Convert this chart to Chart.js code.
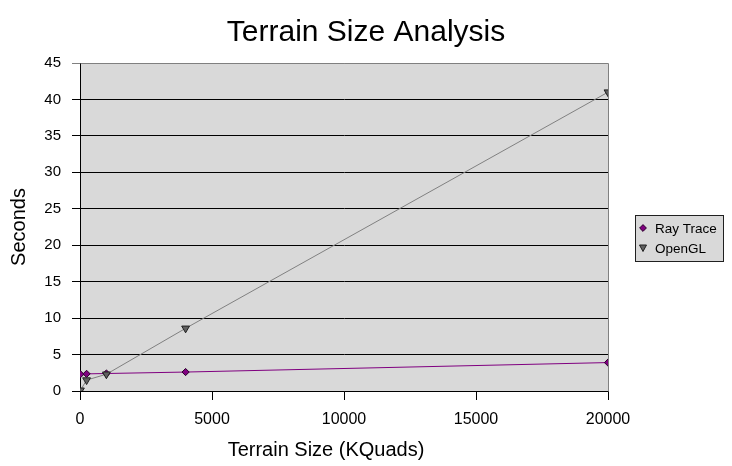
<!DOCTYPE html>
<html>
<head>
<meta charset="utf-8">
<script src="https://cdn.jsdelivr.net/npm/chart.js@4.4.1/dist/chart.umd.min.js"></script>
<style>
  html, body { margin: 0; padding: 0; background: #ffffff; }
  #wrap { width: 732px; height: 466px; position: relative; }
</style>
</head>
<body>
<div id="wrap"><canvas id="c" width="732" height="466"></canvas></div>
<script>
// Terrain sizes (KQuads) and timings (seconds)
const terrainSizes = [16, 250, 1000, 4000, 20000];
const rayTraceSeconds = [2.3, 2.35, 2.4, 2.6, 3.9];
const openGLSeconds = [0.1, 1.5, 2.3, 8.6, 41];
const seriesNames = ['Ray Trace', 'OpenGL'];
const xTicks = [0, 5000, 10000, 15000, 20000];
const yTicks = [0, 5, 10, 15, 20, 25, 30, 35, 40, 45];

const chartTitle = 'Terrain Size Analysis';
const xTitle = 'Terrain Size (KQuads)';
const yTitle = 'Seconds';

const FONT = "'Liberation Sans', Arial, sans-serif";

const toPoints = (xs, ys) => xs.map((x, i) => ({ x: x, y: ys[i] }));

const styles = [
  { line: '#800080', fill: '#800080', border: '#2a002a', shape: 'rectRot', radius: 3.6, rotation: 0 },
  { line: '#808080', fill: '#606060', border: '#202020', shape: 'triangle', radius: 4.5, rotation: 180 }
];

// Plot background, frame, title, axis title and legend
const decorations = {
  id: 'decorations',
  beforeDraw(chart) {
    const a = chart.chartArea, ctx = chart.ctx;
    ctx.save();
    ctx.fillStyle = '#d9d9d9';
    ctx.fillRect(a.left, a.top, a.right - a.left, a.bottom - a.top);
    ctx.restore();
  },
  afterDatasetsDraw(chart) {
    const a = chart.chartArea, ctx = chart.ctx;
    ctx.save();
    // gray frame on top and right
    ctx.strokeStyle = '#808080';
    ctx.lineWidth = 1;
    ctx.beginPath();
    ctx.moveTo(Math.round(a.left) + 0.5, Math.round(a.top) + 0.5);
    ctx.lineTo(Math.round(a.right) + 0.5, Math.round(a.top) + 0.5);
    ctx.lineTo(Math.round(a.right) + 0.5, Math.round(a.bottom) + 0.5);
    ctx.stroke();
    ctx.restore();
  },
  afterDraw(chart) {
    const ctx = chart.ctx;
    ctx.save();
    ctx.fillStyle = '#000';
    ctx.textAlign = 'center';
    ctx.textBaseline = 'middle';
    ctx.font = '30px ' + FONT;
    ctx.fillText(chartTitle, 366, 33);
    ctx.font = '20px ' + FONT;
    ctx.fillText(xTitle, 326, 450);

    // legend box
    const lx = 635.5, ly = 215.5, lw = 88, lh = 46;
    ctx.fillStyle = '#d9d9d9';
    ctx.fillRect(lx, ly, lw, lh);
    ctx.strokeStyle = '#202020';
    ctx.lineWidth = 1;
    ctx.strokeRect(lx, ly, lw, lh);
    ctx.font = '13.5px ' + FONT;
    ctx.textAlign = 'left';
    seriesNames.forEach((name, i) => {
      const cy = 228 + i * 20;
      const s = styles[i];
      ctx.fillStyle = s.fill;
      ctx.strokeStyle = s.border;
      ctx.beginPath();
      if (i === 0) {
        const r = 3.4;
        ctx.moveTo(643, cy - r); ctx.lineTo(643 + r, cy); ctx.lineTo(643, cy + r); ctx.lineTo(643 - r, cy); ctx.closePath();
      } else {
        ctx.moveTo(639.5, cy - 3); ctx.lineTo(646.5, cy - 3); ctx.lineTo(643, cy + 3.5); ctx.closePath();
      }
      ctx.fill(); ctx.stroke();
      ctx.fillStyle = '#000';
      ctx.fillText(name, 655, cy + 1);
    });
    ctx.restore();
  }
};

const datasets = [rayTraceSeconds, openGLSeconds].map((vals, i) => ({
  label: seriesNames[i],
  data: toPoints(terrainSizes, vals),
  showLine: true,
  borderColor: styles[i].line,
  borderWidth: 1,
  pointStyle: styles[i].shape,
  pointRotation: styles[i].rotation,
  pointRadius: styles[i].radius,
  pointBackgroundColor: styles[i].fill,
  pointBorderColor: styles[i].border,
  pointBorderWidth: 1,
  tension: 0,
  fill: false
}));

new Chart(document.getElementById('c'), {
  type: 'scatter',
  data: { datasets: datasets.slice().reverse() },
  options: {
    responsive: false,
    animation: false,
    devicePixelRatio: 1,
    layout: { padding: { top: 63, right: 124, bottom: 0, left: 0 } },
    plugins: {
      legend: { display: false },
      title: { display: false },
      tooltip: { enabled: false }
    },
    scales: {
      x: {
        type: 'linear',
        min: 0,
        max: 20000,
        afterBuildTicks(scale) { scale.ticks = xTicks.map(v => ({ value: v })); },
        afterFit(scale) { scale.height = 75; },
        ticks: {
          color: '#000',
          font: { family: FONT, size: 16 },
          padding: 10,
          maxRotation: 0,
          callback: v => String(v)
        },
        grid: { drawOnChartArea: false, drawTicks: true, tickLength: 9, color: '#000', lineWidth: 1 },
        border: { display: true, color: '#000', width: 1 }
      },
      y: {
        type: 'linear',
        min: 0,
        max: 45,
        afterBuildTicks(scale) { scale.ticks = yTicks.map(v => ({ value: v })); },
        afterFit(scale) { scale.width = 80; },
        ticks: {
          color: '#000',
          font: { family: FONT, size: 15 },
          padding: 11,
          callback: v => String(v)
        },
        grid: {
          drawTicks: true,
          tickLength: 8,
          lineWidth: 1,
          color: ctx => (ctx.tick && ctx.tick.value === 45 ? '#808080' : '#000')
        },
        border: { display: true, color: '#000', width: 1 },
        title: {
          display: true,
          text: yTitle,
          color: '#000',
          font: { family: FONT, size: 20 },
          padding: { top: 7, bottom: 0 }
        }
      }
    }
  },
  plugins: [decorations]
});
</script>
</body>
</html>
